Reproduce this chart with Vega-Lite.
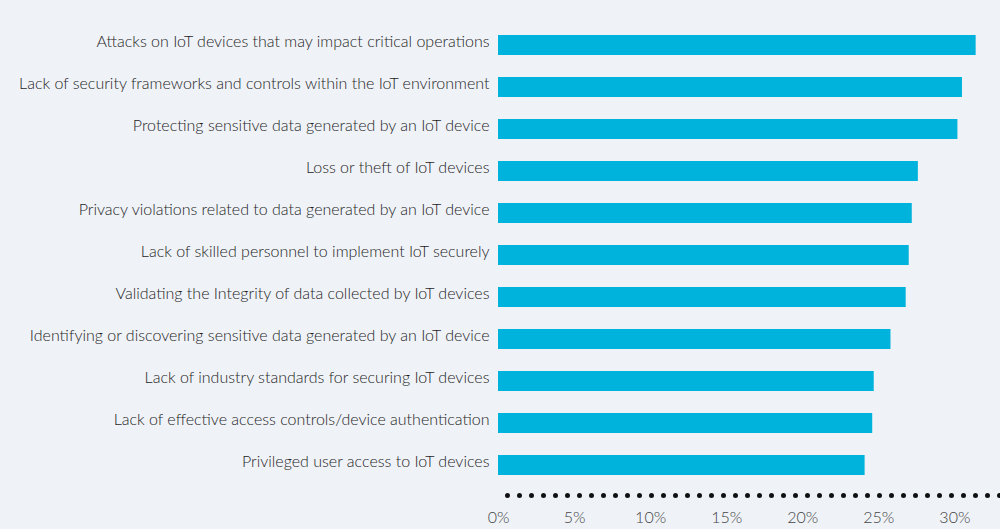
{
  "$schema": "https://vega.github.io/schema/vega-lite/v6.json",
  "autosize": "none",
  "width": 502,
  "height": 462,
  "padding": {"left": 498, "top": 24, "right": 0, "bottom": 43},
  "background": "#eff2f7",
  "data": {
    "values": [
      {"issue": "Attacks on IoT devices that may impact critical operations", "pct": 0.314},
      {"issue": "Lack of security frameworks and controls within the IoT environment", "pct": 0.305},
      {"issue": "Protecting sensitive data generated by an IoT device", "pct": 0.302},
      {"issue": "Loss or theft of IoT devices", "pct": 0.276},
      {"issue": "Privacy violations related to data generated by an IoT device", "pct": 0.272},
      {"issue": "Lack of skilled personnel to implement IoT securely", "pct": 0.270},
      {"issue": "Validating the Integrity of data collected by IoT devices", "pct": 0.268},
      {"issue": "Identifying or discovering sensitive data generated by an IoT device", "pct": 0.258},
      {"issue": "Lack of industry standards for securing IoT devices", "pct": 0.247},
      {"issue": "Lack of effective access controls/device authentication", "pct": 0.246},
      {"issue": "Privileged user access to IoT devices", "pct": 0.241}
    ]
  },
  "mark": {"type": "bar", "color": "#00b3dc"},
  "encoding": {
    "y": {
      "field": "issue",
      "type": "nominal",
      "sort": null,
      "title": null,
      "scale": {"paddingInner": 0.52, "paddingOuter": 0.26},
      "axis": {
        "domain": false,
        "ticks": false,
        "labelPadding": 9,
        "labelFont": "Lato",
        "labelFontSize": 16,
        "labelFontWeight": 300,
        "labelColor": "#1e1e1e",
        "labelLimit": 500,
        "labelOffset": -3
      }
    },
    "x": {
      "field": "pct",
      "type": "quantitative",
      "title": null,
      "scale": {"domain": [0, 0.33], "nice": false},
      "axis": {
        "values": [0, 0.05, 0.1, 0.15, 0.2, 0.25, 0.3],
        "format": ".0%",
        "grid": false,
        "ticks": false,
        "labelFlush": false,
        "offset": 9,
        "domainColor": "#111111",
        "domainWidth": 5,
        "domainDash": [0, 12],
        "domainDashOffset": 3,
        "domainCap": "round",
        "labelPadding": 14,
        "labelFont": "Lato",
        "labelFontSize": 16,
        "labelFontWeight": 300,
        "labelColor": "#444444"
      }
    }
  },
  "config": {"view": {"stroke": null}}
}
